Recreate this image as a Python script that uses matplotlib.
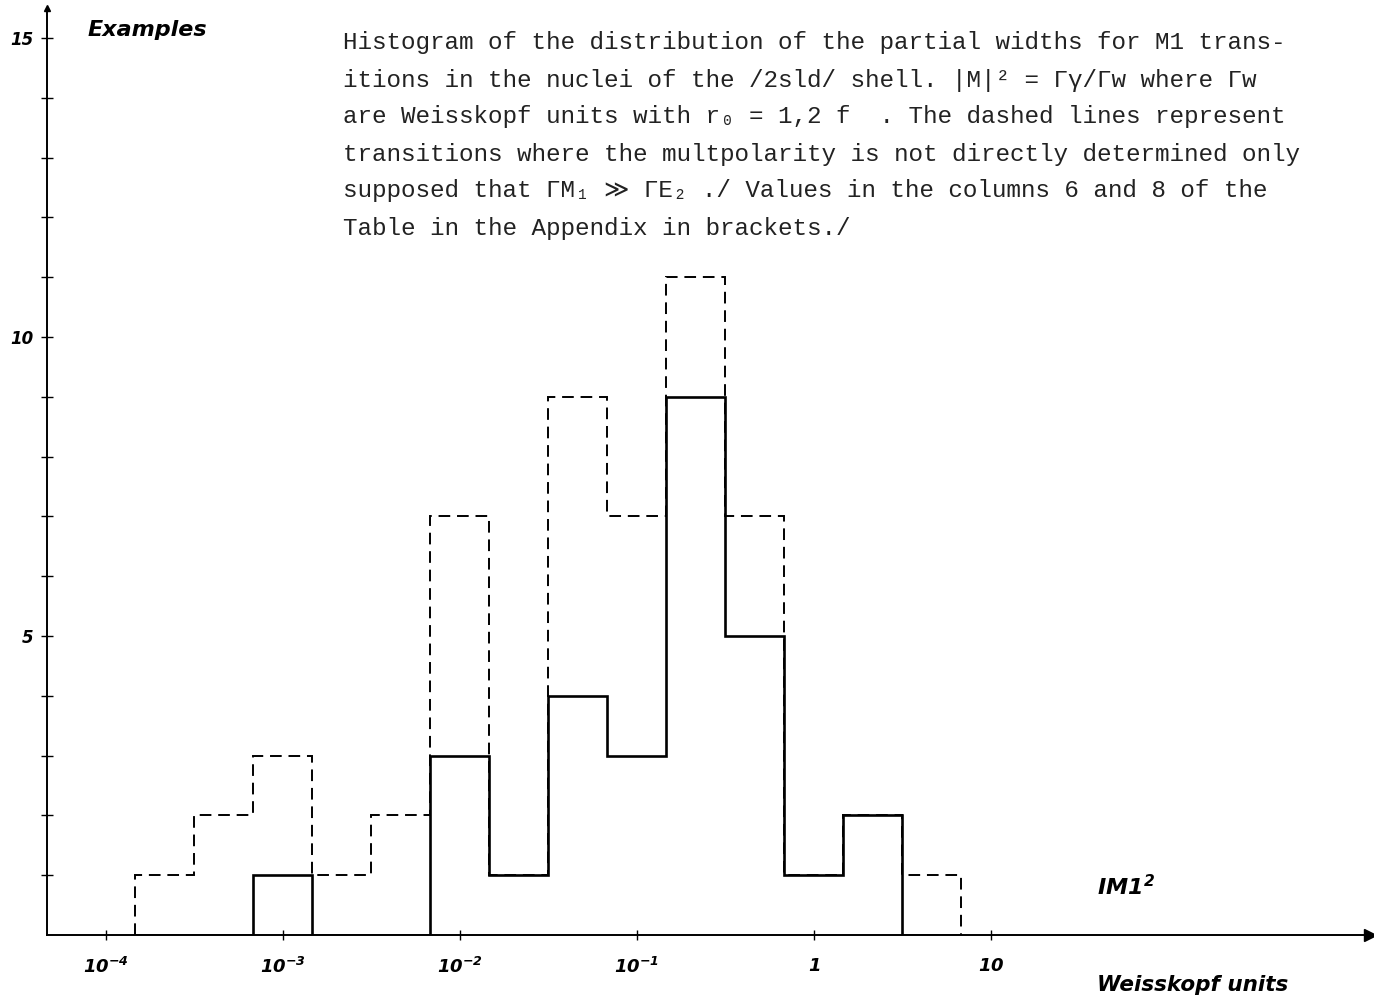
import numpy as np
import matplotlib.pyplot as plt

# histogram of |M|^2 for M1 transitions, bins of 1/3 decade
edge_exp = [-23, -21, -19, -17, -15, -13, -11, -9, -7, -5, -3, -1, 1, 3, 5]  # in units of 1/6 decade
total = [1, 2, 3, 1, 2, 7, 1, 9, 7, 11, 7, 1, 2, 1]      # dashed: incl. undetermined multipolarity
measured = [0, 0, 1, 0, 0, 3, 1, 4, 3, 9, 5, 1, 2, 0]    # solid

tick_pos = [1e-4, 1e-3, 1e-2, 1e-1, 1, 10]
tick_lab = [r"$10^{-4}$", r"$10^{-3}$", r"$10^{-2}$", r"$10^{-1}$", r"$1$", r"$10$"]
ytick_lab = {5: "5", 10: "10", 15: "15"}

text_lines = [
    "Histogram of the distribution of the partial widths for M1 trans-",
    "itions in the nuclei of the /2sld/ shell. |M|² = Γγ/Γw where Γw",
    "are Weisskopf units with r₀ = 1,2 f  . The dashed lines represent",
    "transitions where the multpolarity is not directly determined only",
    "supposed that ΓM₁ ≫ ΓE₂ ./ Values in the columns 6 and 8 of the",
    "Table in the Appendix in brackets./",
]

# handwritten-looking labels: bold italic everywhere in mathtext
plt.rcParams["mathtext.fontset"] = "custom"
plt.rcParams["mathtext.it"] = "DejaVu Sans:italic:bold"
plt.rcParams["mathtext.rm"] = "DejaVu Sans:italic:bold"

edges = 10.0 ** (np.array(edge_exp) / 6.0)

W, H = 1374, 1006
fig = plt.figure(figsize=(W / 100, H / 100), dpi=100)
ax = fig.add_axes([47 / W, (H - 935) / H, (1370 - 47) / W, 927 / H])
ax.set_xscale("log")
ax.set_xlim(10 ** (-4 - 59 / 177), 10 ** (-4 + 1264 / 177))
ax.set_ylim(0, 15.5)

ax.stairs(total, edges, baseline=0, color="black", lw=1.4, ls=(0, (6, 3.5)))
ax.stairs(measured, edges, baseline=0, color="black", lw=1.9)

for s in ["top", "right"]:
    ax.spines[s].set_visible(False)
ax.spines["left"].set_linewidth(1.4)
ax.spines["bottom"].set_linewidth(1.4)

# arrow heads on the axes
ax.plot(1, 0, ">k", ms=8, transform=ax.transAxes, clip_on=False)
ax.plot(0, 1, "^k", ms=5, transform=ax.transAxes, clip_on=False)

ax.set_yticks(range(1, 16))
ax.set_yticklabels([ytick_lab.get(i, "") for i in range(1, 16)],
                   fontsize=12, fontstyle="italic", fontweight="bold")
ax.tick_params(axis="y", direction="inout", length=8, width=1, pad=6)

ax.set_xticks(tick_pos)
ax.set_xticklabels(tick_lab, fontsize=13)
ax.xaxis.set_minor_locator(plt.NullLocator())
ax.tick_params(axis="x", direction="inout", length=7, width=1, pad=12)

fig.text(88 / W, 1 - 30 / H, "Examples", fontsize=16, fontstyle="italic",
         fontweight="bold", va="center", ha="left")
fig.text(1097 / W, 1 - 887 / H, r"$IM1^{2}$", fontsize=16,
         va="center", ha="left")
fig.text(1097 / W, 1 - 985 / H, "Weisskopf units", fontsize=15.5, fontstyle="italic",
         fontweight="bold", va="center", ha="left")

ys = [42, 80, 117, 155, 191, 228]
for line, y in zip(text_lines, ys):
    fig.text(343 / W, 1 - y / H, line, fontsize=17.5,
             family=["Liberation Mono", "DejaVu Sans Mono", "DejaVu Sans"],
             va="center", ha="left", color="#222222")

fig.savefig("out.png", dpi=100)
